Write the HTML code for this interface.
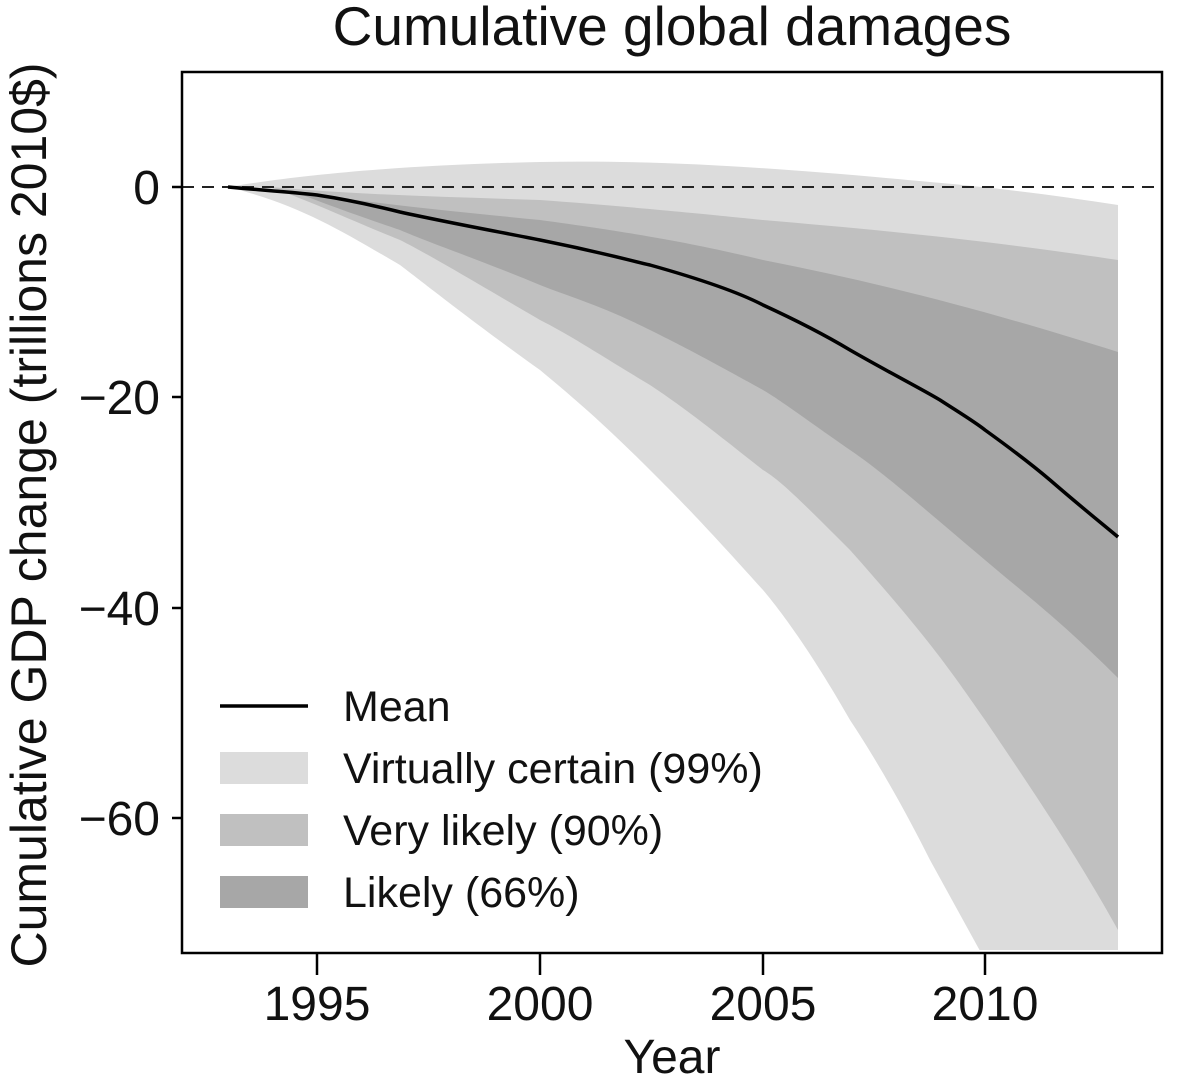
<!DOCTYPE html>
<html><head><style>body{margin:0;background:#fff}svg{display:block}</style></head><body>
<svg width="1200" height="1092" viewBox="0 0 1200 1092" xmlns="http://www.w3.org/2000/svg" font-family="Liberation Sans, Arial, sans-serif">
<defs><clipPath id="c"><rect x="182" y="72" width="980" height="878"/></clipPath></defs>
<g clip-path="url(#c)">
<path d="M228,187 C300,175 400,165 540,162 C650,160 760,166 930,182 C1000,188 1060,196 1118,205 L1118,960 L985,960 L930,860 C900,800 870,750 850,720 C810,650 780,610 763,590 C700,520 680,500 650,470 C600,420 570,395 540,370 C470,320 420,280 400,265 C340,230 300,205 228,187 Z" fill="#dcdcdc"/>
<path d="M270,187 C360,195 450,197 540,200 C650,208 763,220 763,220 C880,230 985,240 1118,260 L1118,930 C1090,880 1060,830 985,720 C950,670 930,640 850,550 C800,500 780,480 763,470 C700,420 680,405 650,385 C600,355 570,335 540,320 C480,285 430,255 400,240 C350,220 320,205 270,187 Z" fill="#c0c0c0"/>
<path d="M290,190 C380,205 460,212 540,220 C650,235 700,245 763,260 C880,283 985,310 1118,352 L1118,678 C1060,620 1020,590 985,560 C920,505 880,470 850,450 C800,415 780,400 763,390 C700,355 680,345 650,330 C600,305 570,297 540,285 C480,260 430,243 400,230 C350,213 320,202 290,190 Z" fill="#a7a7a7"/>
<line x1="182" y1="187" x2="1162" y2="187" stroke="#222" stroke-width="2" stroke-dasharray="12,8"/>
<path d="M228,187 C260,190 290,192 317,195 C350,200 380,207 400,212 C450,223 500,232 540,240 C600,252 620,258 650,265 C700,279 740,293 763,305 C800,322 830,338 850,350 C890,373 920,388 940,400 C960,413 975,422 985,430 C1010,448 1030,463 1050,480 C1080,506 1100,522 1118,537" fill="none" stroke="#000" stroke-width="3.5"/>
</g>
<rect x="182" y="72" width="980" height="881" fill="none" stroke="#000" stroke-width="2.5"/>
<g stroke="#000" stroke-width="2.5">
<line x1="172" y1="187" x2="182" y2="187"/><line x1="172" y1="397" x2="182" y2="397"/><line x1="172" y1="608" x2="182" y2="608"/><line x1="172" y1="818" x2="182" y2="818"/>
<line x1="317" y1="953" x2="317" y2="975"/><line x1="540" y1="953" x2="540" y2="975"/><line x1="763" y1="953" x2="763" y2="975"/><line x1="985" y1="953" x2="985" y2="975"/>
</g>
<g font-size="48" fill="#111" text-anchor="end">
<text x="160" y="204">0</text><text x="160" y="414">−20</text><text x="160" y="625">−40</text><text x="160" y="835">−60</text>
</g>
<g font-size="48" fill="#111" text-anchor="middle">
<text x="317" y="1020">1995</text><text x="540" y="1020">2000</text><text x="763" y="1020">2005</text><text x="985" y="1020">2010</text>
<text x="672" y="1073">Year</text>
<text x="672" y="45" font-size="55">Cumulative global damages</text>
<text transform="translate(46,515) rotate(-90)" font-size="50">Cumulative GDP change (trillions 2010$)</text>
</g>
<line x1="220" y1="706" x2="308" y2="706" stroke="#000" stroke-width="3.5"/>
<rect x="220" y="752" width="88" height="32" fill="#dcdcdc"/>
<rect x="220" y="814" width="88" height="32" fill="#c0c0c0"/>
<rect x="220" y="876" width="88" height="32" fill="#a7a7a7"/>
<g font-size="43" fill="#111">
<text x="343" y="721">Mean</text><text x="343" y="783">Virtually certain (99%)</text><text x="343" y="845">Very likely (90%)</text><text x="343" y="907">Likely (66%)</text>
</g>
</svg>
</body></html>
